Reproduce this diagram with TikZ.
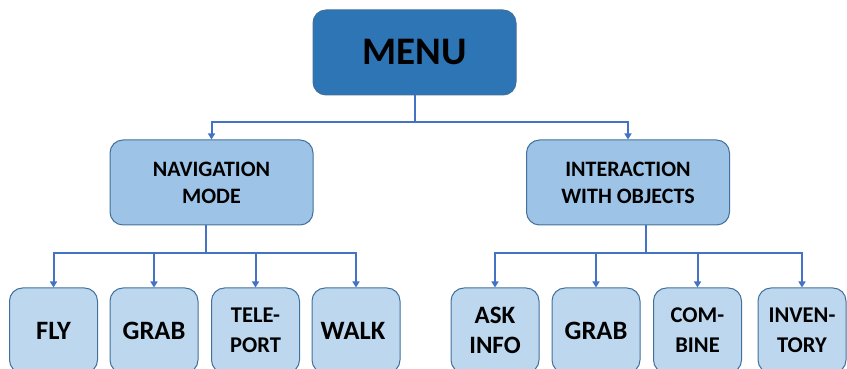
\documentclass[tikz,border=0pt]{standalone}
\usepackage{fontspec}
\setmainfont{Carlito}
\usepackage{tikz}
\usepackage{xcolor}
\usetikzlibrary{arrows.meta}
\definecolor{menublue}{HTML}{2E75B6}
\definecolor{modeblue}{HTML}{9DC3E6}
\definecolor{leafblue}{HTML}{BDD7EE}
\definecolor{edgeblue}{HTML}{41719C}
\definecolor{wireblue}{HTML}{4472C4}
\tikzset{
    menubox/.style={draw=edgeblue,line width=1pt,fill=menublue,rounded corners=13pt,
        minimum width=203pt,minimum height=85pt,font=\bfseries\fontsize{39}{45}\selectfont},
    modebox/.style={draw=edgeblue,line width=1pt,fill=modeblue,rounded corners=13pt,align=center,
        minimum width=203pt,minimum height=85pt,font=\bfseries\fontsize{22}{27}\selectfont},
    leafbox/.style={draw=edgeblue,line width=1pt,fill=leafblue,rounded corners=13pt,align=center,
        minimum width=88pt,minimum height=85pt,font=\bfseries\fontsize{#1}{30}\selectfont},
    wire/.style={draw=wireblue,line width=2pt,-{Triangle[length=6pt,width=7pt]}}
}

\begin{document}
\begin{tikzpicture}[x=1pt,y=1pt]
\useasboundingbox (0,0) rectangle (847,369);
\clip (0,0) rectangle (847,369);
\node[menubox] (menu) at (414.5,316.5) {MENU};
\node[modebox] (nav) at (211.5,186.5) {NAVIGATION\\MODE};
\node[modebox] (inter) at (628,186.5) {INTERACTION\\WITH OBJECTS};
\foreach \name/\x/\fs/\txt in {
    fly/53.5/26.5/FLY, grabn/154/26.5/GRAB, tele/255.5/22.5/TELE-\\PORT, walk/356/26.5/WALK
}{
    \node[leafbox=\fs] (\name) at (\x,38.5) {\txt};
}
\foreach \name/\x/\fs/\txt in {
    ask/495/25/ASK\\INFO, grabi/596/26.5/GRAB, comb/697.5/22.5/COM-\\BINE, inv/802/22.5/INVEN-\\TORY
}{
    \node[leafbox=\fs] (\name) at (\x,38.5) {\txt};
}
\draw[wire] (menu.south) -- ++(0,-27) -| (nav.north);
\draw[wire] (menu.south) -- ++(0,-27) -| (inter.north);
\foreach \leaf in {fly,grabn,tele,walk}{
    \draw[wire] ([xshift=-5.5pt]nav.south) -- ++(0,-28) -| (\leaf.north);
}
\foreach \leaf in {ask,grabi,comb,inv}{
    \draw[wire] ([xshift=18pt]inter.south) -- ++(0,-28) -| (\leaf.north);
}
\end{tikzpicture}
\end{document}
